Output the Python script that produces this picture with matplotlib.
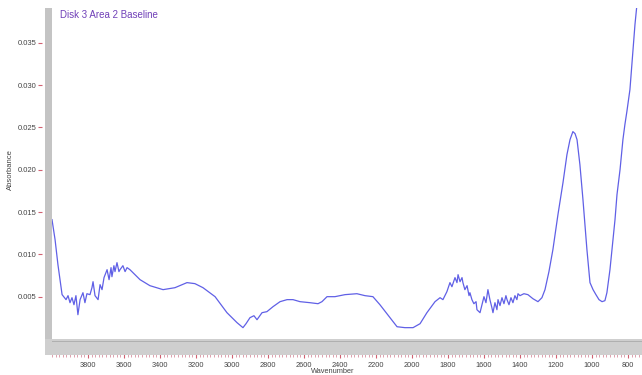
import matplotlib
matplotlib.use("Agg")
import matplotlib.pyplot as plt
from matplotlib.patches import Rectangle
from matplotlib.ticker import MultipleLocator

plt.rcParams['font.family'] = ['Liberation Sans', 'DejaVu Sans']

title = "Disk 3 Area 2 Baseline"
x_label = "Wavenumber"
y_label = "Absorbance"

wavenumber = [
    4000, 3983, 3967, 3944, 3922, 3911, 3900, 3889, 3878, 3867, 3856, 3844,
    3828, 3817, 3806, 3789, 3778, 3772, 3761, 3744, 3733, 3722, 3711, 3694,
    3683, 3672, 3667, 3656, 3650, 3639, 3628, 3622, 3606, 3594, 3583, 3567,
    3539, 3511, 3456, 3383, 3317, 3250, 3206, 3161, 3094, 3028, 2972, 2939,
    2922, 2900, 2878, 2861, 2833, 2806, 2772, 2733, 2694, 2661, 2622, 2567,
    2522, 2500, 2472, 2428, 2372, 2306, 2261, 2217, 2178, 2122, 2083, 2039,
    1994, 1955, 1917, 1872, 1844, 1828, 1806, 1789, 1778, 1761, 1750, 1744,
    1733, 1722, 1717, 1706, 1694, 1683, 1678, 1667, 1656, 1644, 1639, 1622,
    1611, 1600, 1589, 1578, 1567, 1556, 1550, 1539, 1528, 1522, 1511, 1500,
    1489, 1478, 1472, 1461, 1450, 1439, 1428, 1417, 1411, 1400, 1378, 1356,
    1328, 1300, 1278, 1261, 1239, 1217, 1189, 1161, 1139, 1122, 1106, 1094,
    1083, 1067, 1050, 1028, 1011, 994, 978, 961, 944, 928, 917, 900,
    889, 872, 861, 844, 828, 817, 806, 789, 772, 761, 750,
]
absorbance = [
    0.01410, 0.01174, 0.00878, 0.00524, 0.00465, 0.00512, 0.00429, 0.00488,
    0.00405, 0.00512, 0.00287, 0.00465, 0.00547, 0.00429, 0.00535, 0.00524,
    0.00606, 0.00677, 0.00512, 0.00465, 0.00642, 0.00583, 0.00725, 0.00819,
    0.00701, 0.00843, 0.00736, 0.00866, 0.00796, 0.00902, 0.00796, 0.00819,
    0.00866, 0.00796, 0.00843, 0.00819, 0.00760, 0.00701, 0.00630, 0.00583,
    0.00606, 0.00666, 0.00654, 0.00606, 0.00500, 0.00311, 0.00193, 0.00134,
    0.00181, 0.00252, 0.00275, 0.00228, 0.00311, 0.00323, 0.00382, 0.00441,
    0.00465, 0.00465, 0.00441, 0.00429, 0.00417, 0.00441, 0.00500, 0.00500,
    0.00524, 0.00535, 0.00512, 0.00500, 0.00405, 0.00252, 0.00145, 0.00134,
    0.00134, 0.00181, 0.00311, 0.00441, 0.00488, 0.00465, 0.00559, 0.00666,
    0.00618, 0.00725, 0.00666, 0.00760, 0.00677, 0.00725, 0.00666, 0.00583,
    0.00630, 0.00512, 0.00547, 0.00465, 0.00417, 0.00441, 0.00346, 0.00311,
    0.00405, 0.00500, 0.00429, 0.00583, 0.00465, 0.00370, 0.00311, 0.00429,
    0.00346, 0.00465, 0.00394, 0.00488, 0.00417, 0.00512, 0.00465, 0.00405,
    0.00488, 0.00429, 0.00512, 0.00465, 0.00535, 0.00512, 0.00535, 0.00524,
    0.00476, 0.00441, 0.00488, 0.00583, 0.00796, 0.01056, 0.01469, 0.01847,
    0.02178, 0.02355, 0.02450, 0.02426, 0.02355, 0.02060, 0.01646, 0.01056,
    0.00666, 0.00583, 0.00524, 0.00465, 0.00441, 0.00453, 0.00547, 0.00819,
    0.01056, 0.01410, 0.01705, 0.02001, 0.02355, 0.02533, 0.02687, 0.02947,
    0.03420, 0.03716, 0.03952,
]
x_ticks = [3800, 3600, 3400, 3200, 3000, 2800, 2600, 2400, 2200, 2000,
           1800, 1600, 1400, 1200, 1000, 800]
y_ticks = [0.005, 0.010, 0.015, 0.020, 0.025, 0.030, 0.035]

W, H = 642, 375
fig = plt.figure(figsize=(W / 100, H / 100), dpi=100)
fig.patch.set_facecolor('white')

# plot area in pixel units
left, right, top, bottom = 52, 642, 8, 339
ax = fig.add_axes([left / W, 1 - bottom / H, (right - left) / W, (bottom - top) / H])

# grey frame bars: vertical along the y axis, horizontal band under the plot
fig.patches.append(Rectangle((45 / W, 1 - 355 / H), 7 / W, (355 - 8) / H,
                             transform=fig.transFigure, facecolor='#c4c4c4',
                             edgecolor='none', zorder=0))
fig.patches.append(Rectangle((45 / W, 1 - 355 / H), (W - 45) / W, 16 / H,
                             transform=fig.transFigure, facecolor='#cfcfcf',
                             edgecolor='none', zorder=0))
fig.patches.append(Rectangle((52 / W, 1 - 342 / H), (W - 52) / W, 1.2 / H,
                             transform=fig.transFigure, facecolor='#b0b0b0',
                             edgecolor='none', zorder=0))

ax.plot(wavenumber, absorbance, color='#6060e6', lw=0.9, clip_on=True)

ax.set_xlim(4000, 722)
ax.set_ylim(0, 0.0391)
ax.set_facecolor('none')

for s in ax.spines.values():
    s.set_visible(False)

ax.set_xticks(x_ticks)
ax.set_xticklabels([str(t) for t in x_ticks])
ax.xaxis.set_minor_locator(MultipleLocator(20))
ax.spines['bottom'].set_position(('outward', 11))
ax.tick_params(axis='x', which='major', direction='out', length=3, width=0.8,
               color='#d06070', labelsize=5.3, labelcolor='#444444', pad=2.5)
ax.tick_params(axis='x', which='minor', direction='out', length=2, width=0.6,
               color='#d890a0')

ax.set_yticks(y_ticks)
ax.set_yticklabels([f"{t:.3f}" for t in y_ticks])
ax.spines['left'].set_position(('outward', 7))
ax.tick_params(axis='y', direction='out', length=3, width=0.8, color='#d06070',
               labelsize=5.5, labelcolor='#444444', pad=1)

fig.text(60 / W, 1 - 15 / H, title, color='#7040b8', fontsize=7,
         ha='left', va='center')
fig.text(10 / W, 1 - 170 / H, y_label, color='#444444', fontsize=5.5,
         rotation=90, ha='center', va='center')
fig.text(333 / W, 1 - 371.5 / H, x_label, color='#444444', fontsize=5.3,
         ha='center', va='center')

fig.savefig('out.png', dpi=100)
